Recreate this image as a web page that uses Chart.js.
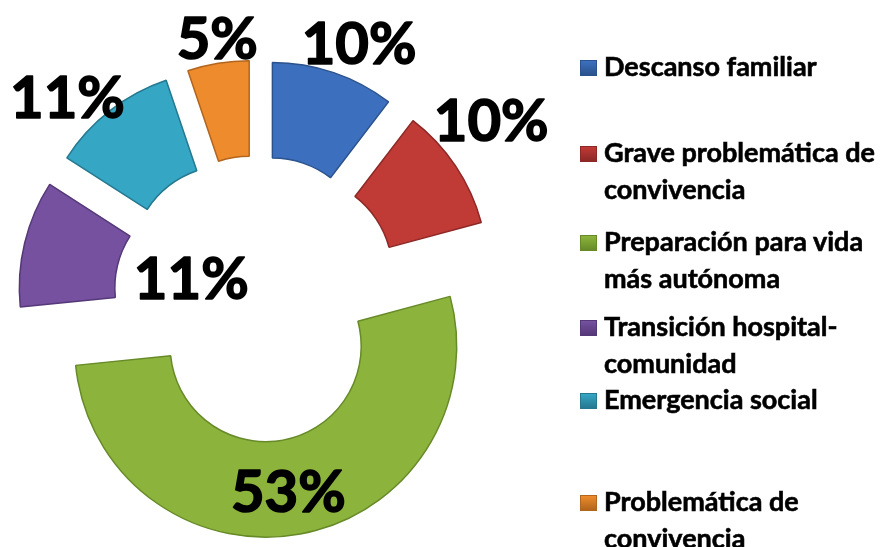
<!DOCTYPE html>
<html lang="es">
<head>
<meta charset="utf-8">
<script src="https://cdn.jsdelivr.net/npm/chart.js@4.4.1/dist/chart.umd.min.js"></script>
<style>
    body { margin: 0; background: #fff; }
    #wrap { position: relative; width: 883px; height: 547px; overflow: hidden; }
    #chartBox { position: absolute; left: 0; top: 0; width: 883px; height: 547px; }
    .leyenda-item { position: absolute; left: 580px; font-family: Lato, "Open Sans", sans-serif; font-weight: 700; font-size: 27px; line-height: 37px; color: #000; white-space: nowrap; -webkit-text-stroke: 0.6px #000; }
    .leyenda-item .marca { position: absolute; left: 0; width: 17px; height: 16px; box-sizing: border-box; }
    .leyenda-item span.txt { position: absolute; left: 24px; top: 0; }
</style>
</head>
<body>
<div id="wrap">
    <div id="chartBox"><canvas id="donutChart"></canvas></div>
    <div id="leyenda"></div>
</div>
<script>
// Datos del gráfico
const categorias = [
    ['Descanso familiar'],
    ['Grave problemática de', 'convivencia'],
    ['Preparación para vida', 'más autónoma'],
    ['Transición hospital-', 'comunidad'],
    ['Emergencia social'],
    ['Problemática de', 'convivencia']
];
const valores = [10.4, 10.4, 52.6, 10.7, 10.7, 5.2];
const colores = ['#3C70BE', '#C03A36', '#8CB43C', '#7651A0', '#36A6C5', '#EE8B2C'];
const bordes = ['#2B528C', '#8C2825', '#678A28', '#553878', '#25788F', '#B2651C'];

// Separación de cada porción respecto al centro (px)
const separacion = 48;
// Posición de las etiquetas (distancia al centro y giro respecto a la bisectriz)
const distEtiqueta = [276, 295, 195, 69, 277, 264];
const giroEtiqueta = [3, -3.6, 1.2, 4.2, -5.2, 0.7];
// Línea base de cada entrada de la leyenda
const baseLeyenda = [75, 161, 250, 335, 408, 510];

const totalValores = valores.reduce((a, b) => a + b, 0);

// Dibuja cada porción desplazada a lo largo de su bisectriz (gráfico "explotado")
const porcionesSeparadas = {
    id: 'porcionesSeparadas',
    beforeDatasetDraw(chart, args) {
        const ctx = chart.ctx;
        args.meta.data.forEach(arc => {
            const mid = (arc.startAngle + arc.endAngle) / 2;
            ctx.save();
            ctx.translate(Math.cos(mid) * separacion, Math.sin(mid) * separacion);
            arc.draw(ctx, chart.chartArea);
            ctx.restore();
        });
        return false;
    }
};

const etiquetasPct = {
    id: 'etiquetasPct',
    afterDatasetsDraw(chart) {
        const ctx = chart.ctx;
        const meta = chart.getDatasetMeta(0);
        ctx.save();
        ctx.font = 'bold 58px Lato, "Open Sans", sans-serif';
        ctx.fillStyle = '#000';
        ctx.strokeStyle = '#000';
        ctx.lineWidth = 1.6;
        ctx.lineJoin = 'round';
        ctx.textAlign = 'center';
        ctx.textBaseline = 'alphabetic';
        meta.data.forEach((arc, i) => {
            const a = (arc.startAngle + arc.endAngle) / 2 + giroEtiqueta[i] * Math.PI / 180;
            const x = arc.x + Math.cos(a) * distEtiqueta[i];
            const y = arc.y + Math.sin(a) * distEtiqueta[i];
            const pct = Math.round(valores[i] / totalValores * 100) + '%';
            ctx.fillText(pct, x, y + 21);
            ctx.strokeText(pct, x, y + 21);
        });
        ctx.restore();
    }
};

new Chart(document.getElementById('donutChart'), {
    type: 'doughnut',
    data: {
        labels: categorias.map(c => c.join(' ')),
        datasets: [{
            data: valores,
            backgroundColor: colores,
            borderColor: bordes,
            borderWidth: 1.5,
            hoverOffset: 0
        }]
    },
    options: {
        responsive: true,
        maintainAspectRatio: false,
        animation: false,
        radius: 191,
        cutout: '50%',
        layout: { padding: { left: 0, right: 369, top: 51, bottom: 0 } },
        plugins: {
            legend: { display: false },
            tooltip: { enabled: false }
        }
    },
    plugins: [porcionesSeparadas, etiquetasPct]
});

// Leyenda a la derecha
const leyenda = document.getElementById('leyenda');
categorias.forEach((lineas, i) => {
    const item = document.createElement('div');
    item.className = 'leyenda-item';
    item.style.top = (baseLeyenda[i] - 28) + 'px';
    const marca = document.createElement('div');
    marca.className = 'marca';
    marca.style.top = '13px';
    marca.style.background = 'linear-gradient(' + colores[i] + ', ' + bordes[i] + ')';
    marca.style.border = '1px solid ' + bordes[i];
    const txt = document.createElement('span');
    txt.className = 'txt';
    txt.innerHTML = lineas.join('<br>');
    item.appendChild(marca);
    item.appendChild(txt);
    leyenda.appendChild(item);
});
</script>
</body>
</html>
